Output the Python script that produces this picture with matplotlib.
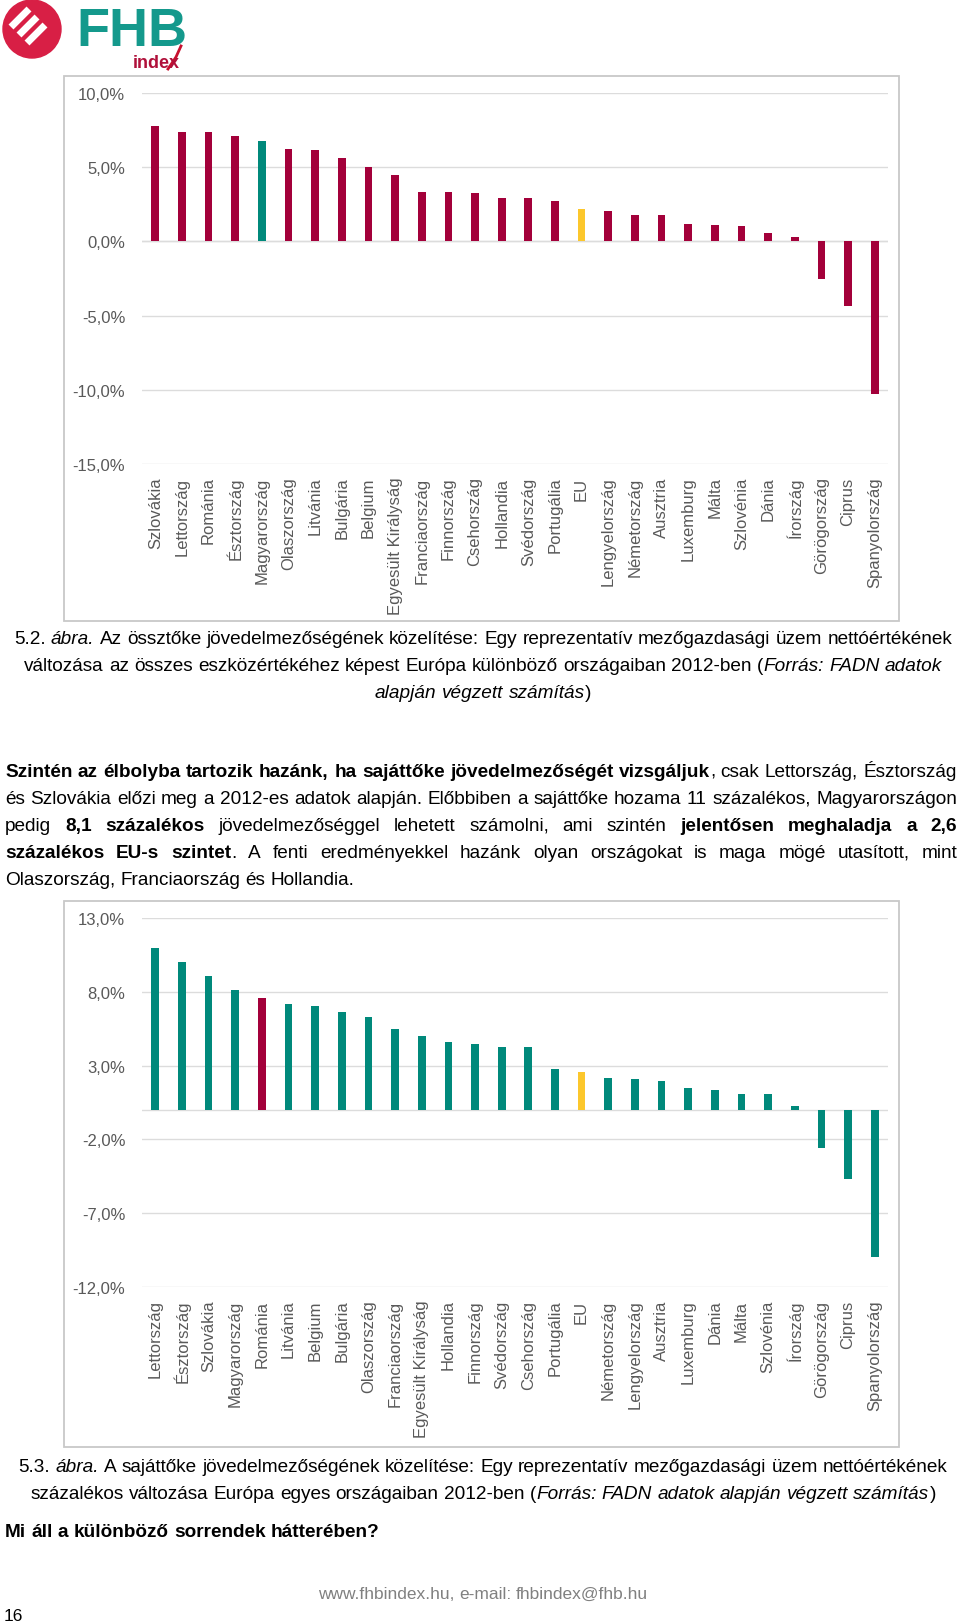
import numpy as np
import matplotlib
matplotlib.use('Agg')
import matplotlib.pyplot as plt
from matplotlib import font_manager
from matplotlib.patches import Rectangle, Circle

# 5.2. ábra - össztőke jövedelmezősége, 2012
cats1 = ['Szlovákia', 'Lettország', 'Románia', 'Észtország', 'Magyarország',
         'Olaszország', 'Litvánia', 'Bulgária', 'Belgium', 'Egyesült Királyság',
         'Franciaország', 'Finnország', 'Csehország', 'Hollandia', 'Svédország',
         'Portugália', 'EU', 'Lengyelország', 'Németország', 'Ausztria',
         'Luxemburg', 'Málta', 'Szlovénia', 'Dánia', 'Írország', 'Görögország',
         'Ciprus', 'Spanyolország']
vals1 = [7.8, 7.4, 7.4, 7.1, 6.75, 6.2, 6.15, 5.6, 5.0, 4.5, 3.35, 3.3, 3.25,
         2.95, 2.95, 2.75, 2.15, 2.05, 1.75, 1.75, 1.15, 1.1, 1.05, 0.55, 0.3,
         -2.5, -4.35, -10.3]
yticks1 = [10, 5, 0, -5, -10, -15]

# 5.3. ábra - sajáttőke jövedelmezősége, 2012
cats2 = ['Lettország', 'Észtország', 'Szlovákia', 'Magyarország', 'Románia',
         'Litvánia', 'Belgium', 'Bulgária', 'Olaszország', 'Franciaország',
         'Egyesült Királyság', 'Hollandia', 'Finnország', 'Svédország',
         'Csehország', 'Portugália', 'EU', 'Németország', 'Lengyelország',
         'Ausztria', 'Luxemburg', 'Dánia', 'Málta', 'Szlovénia', 'Írország',
         'Görögország', 'Ciprus', 'Spanyolország']
vals2 = [11.0, 10.0, 9.1, 8.1, 7.55, 7.2, 7.05, 6.65, 6.3, 5.45, 5.0, 4.6, 4.45,
         4.25, 4.25, 2.8, 2.6, 2.15, 2.1, 1.95, 1.45, 1.35, 1.1, 1.05, 0.25,
         -2.55, -4.65, -10.0]
yticks2 = [13, 8, 3, -2, -7, -12]

MAROON = '#a3003a'
TEAL = '#00897b'
YELLOW = '#fcc72c'
GRAY = '#595959'

cols1 = [TEAL if c == 'Magyarország' else YELLOW if c == 'EU' else MAROON for c in cats1]
cols2 = [TEAL] * len(cats2)
cols2[4] = MAROON          # az eredetin az 5. oszlop piros
cols2[cats2.index('EU')] = YELLOW

W, H = 960, 1624
fig = plt.figure(figsize=(W / 100, H / 100), dpi=100)
fig.patch.set_facecolor('white')
r = fig.canvas.get_renderer()


def fx(x):
    return x / W


def fy(y):
    return 1 - y / H


def axes_px(x0, y0, x1, y1):
    return fig.add_axes([fx(x0), fy(y1), (x1 - x0) / W, (y1 - y0) / H])


try:
    font_manager.findfont('Liberation Sans Narrow', fallback_to_default=False)
    BODY = ['Liberation Sans Narrow', 'DejaVu Sans']
except ValueError:
    BODY = ['Liberation Sans', 'DejaVu Sans']
CHART = ['Liberation Sans', 'DejaVu Sans']


def bar_chart(box, frame, cats, vals, cols, yticks, pad):
    fig.add_artist(Rectangle((fx(frame[0]), fy(frame[3])), (frame[2] - frame[0]) / W,
                             (frame[3] - frame[1]) / H, transform=fig.transFigure,
                             fill=False, ec='#c8c8c8', lw=1.3))
    ax = axes_px(*box)
    x = np.arange(len(cats))
    ax.bar(x, vals, width=0.29, color=cols, zorder=3)
    ax.set_xlim(-0.5, len(cats) - 0.5)
    ax.set_ylim(min(yticks), max(yticks))
    ax.set_yticks(yticks)
    ax.set_yticklabels([('%.1f%%' % t).replace('.', ',') for t in yticks],
                       family=CHART)
    ax.set_xticks(x)
    ax.set_xticklabels(cats, rotation=90, family=CHART)
    ax.yaxis.grid(True, color='#dcdcdc', lw=1)
    ax.axhline(0, color='#dcdcdc', lw=1, zorder=2)
    ax.set_axisbelow(True)
    ax.tick_params(axis='y', length=0, labelsize=12, colors=GRAY, pad=12)
    ax.tick_params(axis='x', length=0, labelsize=12, colors=GRAY, pad=pad)
    for s in ax.spines.values():
        s.set_visible(False)
    return ax


bar_chart((142, 94, 888, 465), (64, 77, 899, 622), cats1, vals1, cols1, yticks1, 9)
bar_chart((142, 919, 888, 1288), (64, 902, 899, 1448), cats2, vals2, cols2, yticks2, 9)

STY = {'n': {}, 'b': {'fontweight': 'bold'}, 'i': {'fontstyle': 'italic'}}


def width(s, **kw):
    t = fig.text(0, 0, s, **kw)
    w = t.get_window_extent(renderer=r).width
    t.remove()
    return w


def tokenize(runs):
    tokens = []
    glue = False
    for txt, st in runs:
        parts = txt.split(' ')
        for i, p in enumerate(parts):
            if i > 0:
                glue = False
            if p == '':
                continue
            if glue and tokens:
                tokens[-1].append((p, st))
            else:
                tokens.append([(p, st)])
            glue = True
    return tokens


def measure_line(runs, size):
    base = dict(family=BODY, fontsize=size)
    tokens = tokenize(runs)
    pw = [[width(p, **base, **STY[st]) for p, st in tok] for tok in tokens]
    sp = width('n n', **base) - width('nn', **base)
    return tokens, pw, sp


def natural(runs, size):
    tokens, pw, sp = measure_line(runs, size)
    return sum(sum(w) for w in pw) + sp * (len(tokens) - 1)


def draw_line(y, runs, x0, x1, align='left', size=12, color='black'):
    base = dict(family=BODY, fontsize=size, color=color)
    tokens, pw, sp = measure_line(runs, size)
    tw = [sum(w) for w in pw]
    total = sum(tw) + sp * (len(tokens) - 1)
    gap = sp
    if align == 'justify' and len(tokens) > 1:
        gap = (x1 - x0 - sum(tw)) / (len(tokens) - 1)
        x = x0
    elif align == 'center':
        x = (x0 + x1) / 2 - total / 2
    else:
        x = x0
    for tok, ws, w in zip(tokens, pw, tw):
        xx = x
        for (p, st), pwid in zip(tok, ws):
            fig.text(fx(xx), fy(y), p, va='baseline', ha='left', **base, **STY[st])
            xx += pwid
        x += w + gap


cap1 = [
    [('5.2. ', 'n'), ('ábra.', 'i'),
     (' Az össztőke jövedelmezőségének közelítése: Egy reprezentatív mezőgazdasági üzem nettóértékének', 'n')],
    [('változása az összes eszközértékéhez képest Európa különböző országaiban 2012-ben (', 'n'),
     ('Forrás: FADN adatok', 'i')],
    [('alapján végzett számítás', 'i'), (')', 'n')],
]
para = [
    ([('Szintén az élbolyba tartozik hazánk, ha sajáttőke jövedelmezőségét vizsgáljuk', 'b'),
      (', csak Lettország, Észtország', 'n')], 'justify'),
    ([('és Szlovákia előzi meg a 2012-es adatok alapján. Előbbiben a sajáttőke hozama 11 százalékos, Magyarországon', 'n')], 'justify'),
    ([('pedig ', 'n'), ('8,1 százalékos', 'b'),
      (' jövedelmezőséggel lehetett számolni, ami szintén ', 'n'),
      ('jelentősen meghaladja a 2,6', 'b')], 'justify'),
    ([('százalékos EU-s szintet', 'b'),
      ('. A fenti eredményekkel hazánk olyan országokat is maga mögé utasított, mint', 'n')], 'justify'),
    ([('Olaszország, Franciaország és Hollandia.', 'n')], 'left'),
]
cap2 = [
    [('5.3. ', 'n'), ('ábra.', 'i'),
     (' A sajáttőke jövedelmezőségének közelítése: Egy reprezentatív mezőgazdasági üzem nettóértékének', 'n')],
    [('százalékos változása Európa egyes országaiban 2012-ben (', 'n'),
     ('Forrás: FADN adatok alapján végzett számítás', 'i'), (')', 'n')],
]
footer = [('www.fhbindex.hu, e-mail: fhbindex@fhb.hu', 'n')]

# betűméret a referencia sorhosszaihoz igazítva
s_cap = 12 * 943 / natural(cap1[0], 12)
s_par = 12 * 952 / natural(para[1][0], 12)
BSIZE = (s_cap + s_par) / 2
FSIZE = 12 * 330 / natural(footer, 12)

for i, ln in enumerate(cap1):
    draw_line(644 + 27 * i, ln, 0, 966, 'center', size=BSIZE)
for i, (ln, al) in enumerate(para):
    draw_line(777 + 27 * i, ln, 5, 957, al, size=BSIZE)
for i, ln in enumerate(cap2):
    draw_line(1472 + 27 * i, ln, 0, 966, 'center', size=BSIZE)

draw_line(1537, [('Mi áll a különböző sorrendek hátterében?', 'b')], 5, 957, size=BSIZE)
draw_line(1599, footer, 0, 966, 'center', size=FSIZE, color='#808080')
draw_line(1621, [('16', 'n')], 4, 60, size=FSIZE)

# FHB index logo
lg = axes_px(0, 0, 200, 75)
lg.set_xlim(0, 200)
lg.set_ylim(75, 0)
lg.axis('off')
lg.add_patch(Circle((32, 30), 29, color='#d81f45'))
for d in (-8, 0, 8):
    lg.plot([19 + d, 37 + d], [36 + d, 18 + d], color='white', lw=5,
            solid_capstyle='butt')
lg.text(76, 46, 'FHB', family=CHART, fontweight='bold', fontsize=39, color='#14998c')
lg.text(133, 68, 'index', family=CHART, fontweight='bold', fontsize=13, color='#b0103a')
lg.plot([168, 176, 181], [70, 58, 47], color='#c8102e', lw=2)

fig.savefig('out.png', dpi=100, facecolor='white')
